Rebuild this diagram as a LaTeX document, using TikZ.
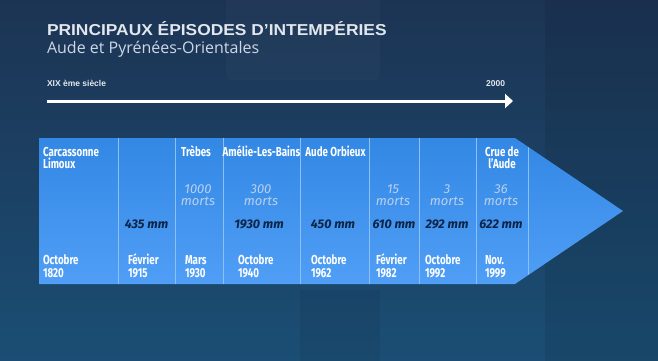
\documentclass[tikz,border=0pt]{standalone}
\usepackage{fontspec}
\setmainfont{Liberation Sans}
\newfontfamily\titrefont[FakeStretch=1.1]{Liberation Sans}
\newfontfamily\soustitrefont{Open Sans}
\newfontfamily\colfont[FakeStretch=0.75]{Fira Sans}
\newfontfamily\chiffrefont{Fira Sans}
\usetikzlibrary{arrows.meta,positioning}

\definecolor{fondhaut}{RGB}{28,52,84}
\definecolor{fondbas}{RGB}{27,78,116}
\definecolor{bandehaut}{RGB}{50,136,228}
\definecolor{bandebas}{RGB}{80,158,246}
\definecolor{titregris}{RGB}{226,231,238}
\definecolor{soustitre}{RGB}{205,216,230}
\definecolor{mortsbleu}{RGB}{184,208,238}
\definecolor{pluienuit}{RGB}{12,36,72}
\definecolor{traitclair}{RGB}{140,192,246}

\begin{document}
\begin{tikzpicture}[
  x=1pt, y=-1pt,
  every node/.style={inner sep=0pt, outer sep=0pt},
  titre/.style={font=\titrefont\bfseries\fontsize{15.8}{18}\selectfont, text=titregris, anchor=base west},
  soustitre/.style={font=\soustitrefont\fontsize{16}{18}\selectfont, text=soustitre, anchor=base west},
  petit/.style={font=\bfseries\fontsize{8.5}{10}\selectfont, text=titregris},
  axe/.style={draw=white, line width=3pt, -{Triangle[length=8pt, width=14pt]}},
  lieu/.style={font=\colfont\bfseries\fontsize{13}{11.8}\selectfont, text=white, align=center, anchor=base},
  quand/.style={font=\colfont\bfseries\fontsize{13}{12.5}\selectfont, text=white, align=left, anchor=base west},
  morts/.style={font=\chiffrefont\itshape\fontsize{13}{12}\selectfont, text=mortsbleu, align=center, anchor=base},
  pluie/.style={font=\chiffrefont\bfseries\itshape\fontsize{12.5}{12}\selectfont, text=pluienuit, anchor=base},
  sep/.style={draw=traitclair, line width=0.8pt}
]
  % fond
  \useasboundingbox (0,0) rectangle (658,361);
  \clip (0,0) rectangle (658,361);
  \shade[top color=fondhaut, bottom color=fondbas] (0,0) rectangle (658,361);
  \fill[white, opacity=0.025, rounded corners=6pt] (226,-10) rectangle (380,80);
  \fill[black, opacity=0.08] (545,0) rectangle (658,361);
  \fill[black, opacity=0.06] (300,290) rectangle (380,361);

  % titre
  \node[titre] (titre) at (47,36) {PRINCIPAUX ÉPISODES D’INTEMPÉRIES};
  \node[soustitre] (soustitre) at (47,53) {Aude et Pyrénées-Orientales};

  % axe du temps
  \node[petit, anchor=base west] (xix) at (47,86) {XIX ème siècle};
  \node[petit, anchor=base east] (an2000) at (505,86) {2000};
  \coordinate (debut) at (47,101);
  \coordinate (fin) at (513,101);
  \draw[axe] (debut) -- (fin);

  % bande
  \shade[top color=bandehaut, bottom color=bandebas]
    (39,138) -- (515,138) -- (623,211) -- (515,284) -- (39,284) -- cycle;
  \begin{scope}
    \clip (39,138) -- (515,138) -- (623,211) -- (515,284) -- (39,284) -- cycle;
    \foreach \x in {118,175,223,300,369,419,476,528}
      \draw[sep] (\x,138) -- (\x,284);
  \end{scope}

  % lieux (ligne de base = derniere ligne)
  \node[lieu, align=left, anchor=base west] (c1lieu) at (43,168) {Carcassonne\\Limoux};
  \node[lieu] (c3lieu) at (196,156.5) {Trèbes};
  \node[lieu] (c4lieu) at (261.5,156.5) {Amélie-Les-Bains};
  \node[lieu] (c5lieu) at (335.5,156.5) {Aude Orbieux};
  \node[lieu] (c8lieu) at (502,168) {Crue de\\l’Aude};

  % victimes
  \node[morts] (c3morts) at (198,205) {1000\\morts};
  \node[morts] (c4morts) at (261,205) {300\\morts};
  \node[morts] (c6morts) at (393,205) {15\\morts};
  \node[morts] (c7morts) at (447,205) {3\\morts};
  \node[morts] (c8morts) at (501,205) {36\\morts};

  % pluie
  \node[pluie] (c2pluie) at (146.5,228.5) {435 mm};
  \node[pluie] (c4pluie) at (259,228.5) {1930 mm};
  \node[pluie] (c5pluie) at (333,228.5) {450 mm};
  \node[pluie] (c6pluie) at (394,228.5) {610 mm};
  \node[pluie] (c7pluie) at (447,228.5) {292 mm};
  \node[pluie] (c8pluie) at (501,228.5) {622 mm};

  % dates
  \node[quand] (c1date) at (43,277) {Octobre\\1820};
  \node[quand] (c2date) at (128,277) {Février\\1915};
  \node[quand] (c3date) at (185,277) {Mars\\1930};
  \node[quand] (c4date) at (238,277) {Octobre\\1940};
  \node[quand] (c5date) at (311,277) {Octobre\\1962};
  \node[quand] (c6date) at (376,277) {Février\\1982};
  \node[quand] (c7date) at (425,277) {Octobre\\1992};
  \node[quand] (c8date) at (485,277) {Nov.\\1999};
\end{tikzpicture}
\end{document}
